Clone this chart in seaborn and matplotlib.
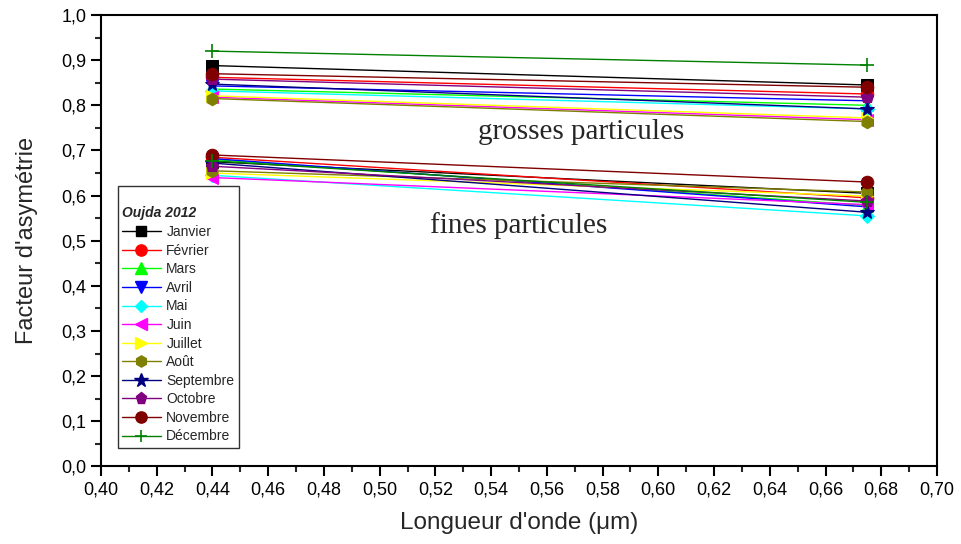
import numpy as np
import pandas as pd
import matplotlib
matplotlib.use("Agg")
import matplotlib.pyplot as plt
import seaborn as sns
from matplotlib.ticker import MultipleLocator, FuncFormatter
from matplotlib.lines import Line2D

# ---- data ----
mois = ["Janvier", "Février", "Mars", "Avril", "Mai", "Juin", "Juillet",
        "Août", "Septembre", "Octobre", "Novembre", "Décembre"]
longueurs = [0.44, 0.675]
# grosses particules: value at 0.44 and at 0.675
grosses_440 = [0.888, 0.862, 0.836, 0.843, 0.832, 0.818, 0.821, 0.815, 0.847, 0.858, 0.870, 0.920]
grosses_675 = [0.845, 0.825, 0.800, 0.810, 0.792, 0.768, 0.772, 0.764, 0.792, 0.818, 0.840, 0.889]
# fines particules
fines_440 = [0.675, 0.685, 0.680, 0.682, 0.645, 0.640, 0.650, 0.655, 0.672, 0.665, 0.690, 0.677]
fines_675 = [0.605, 0.595, 0.578, 0.575, 0.555, 0.580, 0.599, 0.608, 0.563, 0.588, 0.630, 0.585]

couleurs = ["#000000", "#ff0000", "#00ff00", "#0000ff", "#00ffff", "#ff00ff",
            "#ffff00", "#808000", "#000080", "#800080", "#800000", "#008000"]
marqueurs = ["s", "o", "^", "v", "D", "<", ">", "h", "*", "p", "o", "+"]
tailles = [8, 9, 9, 9, 7, 9, 9, 9, 11, 9, 9, 10]

x_ticks = [0.40, 0.42, 0.44, 0.46, 0.48, 0.50, 0.52, 0.54, 0.56, 0.58, 0.60,
           0.62, 0.64, 0.66, 0.68, 0.70]
y_ticks = [0.0, 0.1, 0.2, 0.3, 0.4, 0.5, 0.6, 0.7, 0.8, 0.9, 1.0]

rows = []
for i, m in enumerate(mois):
    for grp, a, b in (("grosses", grosses_440, grosses_675), ("fines", fines_440, fines_675)):
        rows.append({"mois": m, "groupe": grp, "x": longueurs[0], "y": a[i]})
        rows.append({"mois": m, "groupe": grp, "x": longueurs[1], "y": b[i]})
df = pd.DataFrame(rows)

sns.set_style("ticks")
plt.rcParams["font.family"] = ["Liberation Sans", "DejaVu Sans"]

fig = plt.figure(figsize=(9.62, 5.44), dpi=100)
ax = fig.add_axes([0.105, 0.1425, 0.869, 0.8299])

handles = []
for i, m in enumerate(mois):
    sub = df[df["mois"] == m]
    mk = marqueurs[i]
    kw = dict(marker=mk, markersize=tailles[i], color=couleurs[i],
              markeredgecolor=couleurs[i], linewidth=1.0)
    if mk == "+":
        kw["markeredgewidth"] = 1.2
    sns.lineplot(data=sub, x="x", y="y", units="groupe", estimator=None,
                 ax=ax, legend=False, sort=False, **kw)
    handles.append(Line2D([], [], **kw))

ax.set_xlim(0.40, 0.70)
ax.set_ylim(0.0, 1.0)
ax.set_xticks(x_ticks)
ax.set_yticks(y_ticks)
ax.xaxis.set_minor_locator(MultipleLocator(0.01))
ax.yaxis.set_minor_locator(MultipleLocator(0.05))
fmt2 = FuncFormatter(lambda v, p: f"{v:.2f}".replace(".", ","))
fmt1 = FuncFormatter(lambda v, p: f"{v:.1f}".replace(".", ","))
ax.xaxis.set_major_formatter(fmt2)
ax.yaxis.set_major_formatter(fmt1)
ax.tick_params(axis="both", which="major", direction="out", length=7, width=1.5,
               labelsize=13, colors="black")
ax.tick_params(axis="both", which="minor", direction="out", length=4, width=1.5)
ax.tick_params(top=False, right=False)
for s in ax.spines.values():
    s.set_linewidth(1.5)
    s.set_color("black")

ax.set_xlabel("Longueur d'onde (μm)", fontsize=17.5, labelpad=10)
ax.set_ylabel("Facteur d'asymétrie", fontsize=17, labelpad=17)

ax.text(0.5353, 0.741, "grosses particules", family=["Liberation Serif", "DejaVu Serif"],
        fontsize=21, va="center", ha="left")
ax.text(0.518, 0.533, "fines particules", family=["Liberation Serif", "DejaVu Serif"],
        fontsize=21, va="center", ha="left")

leg = ax.legend(handles, mois, title="\nOujda 2012", loc="upper left",
                bbox_to_anchor=(0.020, 0.621), borderaxespad=0.0, fontsize=10,
                frameon=True, fancybox=False, edgecolor="black", handlelength=2.8,
                labelspacing=0.33, borderpad=0.3, handletextpad=0.4,
                markerscale=0.9)
leg.get_frame().set_linewidth(1.0)
leg._legend_box.align = "left"
leg.get_title().set_fontweight("bold")
leg.get_title().set_fontstyle("italic")
leg.get_title().set_fontsize(10)

fig.savefig("out.png", dpi=100)
